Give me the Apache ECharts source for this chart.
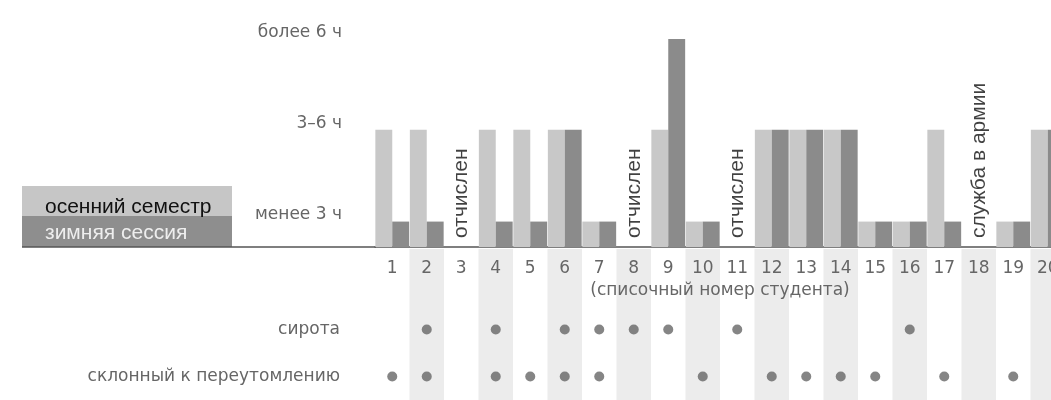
<!DOCTYPE html>
<html>
<head>
<meta charset="utf-8">
<script src="https://cdn.jsdelivr.net/npm/echarts@6/dist/echarts.min.js"></script>
<style>
  html, body { margin: 0; padding: 0; background: #ffffff; }
  #chart { width: 1051px; height: 400px; }
</style>
</head>
<body>
<div id="chart"></div>
<script>
// ---- data ----
const students = ['1','2','3','4','5','6','7','8','9','10','11','12','13','14','15','16','17','18','19','20'];
const levelNames = ['менее 3 ч', '3–6 ч', 'более 6 ч'];
const levelValues = [0.28, 1.29, 2.29];
// 0 = no data, 1 = менее 3 ч, 2 = 3–6 ч, 3 = более 6 ч
const autumnLevel = [2, 2, 0, 2, 2, 2, 1, 0, 2, 1, 0, 2, 2, 2, 1, 1, 2, 0, 1, 2];
const winterLevel = [1, 1, 0, 1, 1, 2, 1, 0, 3, 1, 0, 2, 2, 2, 1, 1, 1, 0, 1, 2];
const statusStudents = ['3', '8', '11', '18'];
const statusTexts = ['отчислен', 'отчислен', 'отчислен', 'служба в армии'];
const seriesNames = ['осенний семестр', 'зимняя сессия'];
const rowNames = ['склонный к переутомлению', 'сирота'];
const rowValues = [1, 3];
const overworkStudents = ['1','2','4','5','6','7','10','12','13','14','15','17','19'];
const orphanStudents = ['2','4','6','7','8','9','11','16'];
const xAxisName = '(списочный номер студента)';

// ---- styles ----
const LIGHT = '#c8c8c8';
const DARK = '#8b8b8b';
const TEXT = '#666666';
const AXIS = '#555555';
const FONT = '"DejaVu Sans", sans-serif';
const FONT2 = '"Liberation Sans", Arial, sans-serif';

const toVal = l => (l > 0 ? levelValues[l - 1] : null);
const levelFormatter = v => {
  const i = levelValues.findIndex(x => Math.abs(x - v) < 1e-6);
  return i >= 0 ? levelNames[i] : '';
};
const rowFormatter = v => {
  const i = rowValues.findIndex(x => Math.abs(x - v) < 1e-6);
  return i >= 0 ? rowNames[i] : '';
};

const chart = echarts.init(document.getElementById('chart'), null, { renderer: 'canvas' });

const option = {
  backgroundColor: '#ffffff',
  animation: false,
  grid: [
    { left: 375, top: 20, width: 690, height: 227, containLabel: false, outerBoundsMode: 'none' },
    { left: 375, top: 249, width: 690, height: 151, containLabel: false, outerBoundsMode: 'none' }
  ],
  xAxis: [
    {
      gridIndex: 0,
      type: 'category',
      data: students,
      boundaryGap: true,
      axisLine: { show: true, lineStyle: { color: AXIS, width: 1.5 } },
      axisTick: { show: false },
      axisLabel: { color: TEXT, fontSize: 17, fontFamily: FONT, margin: 13, interval: 0, hideOverlap: false },
      name: xAxisName,
      nameLocation: 'middle',
      nameGap: 34,
      nameTextStyle: { color: TEXT, fontSize: 17, fontFamily: FONT, verticalAlign: 'top' },
      splitLine: { show: false }
    },
    {
      gridIndex: 1,
      type: 'category',
      data: students,
      boundaryGap: true,
      axisLine: { show: false },
      axisTick: { show: false },
      axisLabel: { show: false },
      splitLine: { show: false },
      splitArea: { show: true, interval: 0, areaStyle: { color: ['rgba(255,255,255,0)', '#ececec'] } }
    }
  ],
  yAxis: [
    {
      gridIndex: 0,
      type: 'value',
      min: 0,
      max: 2.5,
      axisLine: { show: false },
      axisTick: { show: false },
      splitLine: { show: false },
      axisLabel: {
        customValues: levelValues,
        formatter: levelFormatter,
        color: TEXT, fontSize: 17, fontFamily: FONT,
        margin: 33, verticalAlign: 'bottom', lineHeight: 13
      }
    },
    {
      gridIndex: 1,
      type: 'value',
      min: 0,
      max: 6.43,
      interval: 1,
      axisLine: { show: false },
      axisTick: { show: false },
      splitLine: { show: false },
      axisLabel: {
        formatter: rowFormatter,
        color: TEXT, fontSize: 17, fontFamily: FONT, margin: 35
      }
    }
  ],
  series: [
    {
      name: seriesNames[0],
      type: 'bar',
      xAxisIndex: 0, yAxisIndex: 0,
      data: autumnLevel.map(toVal),
      itemStyle: { color: LIGHT },
      barGap: '0%',
      barCategoryGap: '2%'
    },
    {
      name: seriesNames[1],
      type: 'bar',
      xAxisIndex: 0, yAxisIndex: 0,
      data: winterLevel.map(toVal),
      itemStyle: { color: DARK },
      barGap: '0%',
      barCategoryGap: '2%'
    },
    {
      name: 'status',
      type: 'scatter',
      xAxisIndex: 0, yAxisIndex: 0,
      symbolSize: 1,
      itemStyle: { color: 'rgba(0,0,0,0)' },
      data: statusStudents.map((s, i) => ({ value: [s, 0.1], label: { formatter: statusTexts[i] } })),
      label: {
        show: true,
        position: 'inside',
        rotate: 90,
        align: 'left',
        verticalAlign: 'middle',
        color: '#111111',
        fontSize: 21,
        fontFamily: FONT2
      },
      silent: true
    },
    {
      name: rowNames[0],
      type: 'scatter',
      xAxisIndex: 1, yAxisIndex: 1,
      symbolSize: 10,
      itemStyle: { color: '#666666' },
      data: overworkStudents.map(s => [s, rowValues[0]])
    },
    {
      name: rowNames[1],
      type: 'scatter',
      xAxisIndex: 1, yAxisIndex: 1,
      symbolSize: 10,
      itemStyle: { color: '#666666' },
      data: orphanStudents.map(s => [s, rowValues[1]])
    }
  ],
  graphic: [
    { type: 'rect', shape: { x: 22, y: 186, width: 210, height: 30 }, style: { fill: '#c6c6c6' } },
    { type: 'rect', shape: { x: 22, y: 216, width: 210, height: 31 }, style: { fill: '#8e8e8e' } },
    { type: 'line', shape: { x1: 22, y1: 247, x2: 376, y2: 247 }, style: { stroke: AXIS, lineWidth: 1.5 } },
    { type: 'text', style: { text: seriesNames[0], x: 45, y: 207, fill: '#111111', fontSize: 21, fontFamily: FONT2, verticalAlign: 'middle' } },
    { type: 'text', style: { text: seriesNames[1], x: 45, y: 233, fill: '#eeeeee', fontSize: 21, fontFamily: FONT2, verticalAlign: 'middle' } }
  ]
};

chart.setOption(option);
</script>
</body>
</html>
